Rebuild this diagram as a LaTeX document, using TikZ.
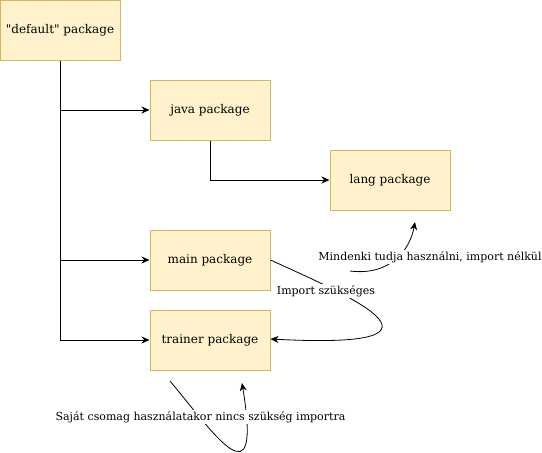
\documentclass[tikz,border=0pt]{standalone}
\usepackage{fontspec}
\setmainfont{DejaVu Serif}[Ligatures=TeXOff]
\usetikzlibrary{arrows.meta}
\definecolor{boxfill}{HTML}{FFF2CC}
\definecolor{boxdraw}{HTML}{D6B656}
\tikzset{
  pkg/.style={draw=boxdraw, fill=boxfill, line width=1pt, minimum width=120pt, minimum height=60pt, inner sep=0pt, font=\fontsize{12}{14}\selectfont},
  conn/.style={draw=black, line width=1pt, -{Stealth[length=8pt,width=7pt,inset=2.5pt]}},
  thin conn/.style={draw=black, line width=0.8pt, -{Stealth[length=8pt,width=7pt,inset=2.5pt]}},
  lbl/.style={fill=white, inner sep=1pt, font=\fontsize{11}{13}\selectfont}
}
\begin{document}
\begin{tikzpicture}[x=1pt,y=-1pt]
\useasboundingbox (0,0) rectangle (542,453);
\node[pkg] (def) at (60,30) {"default" package};
\node[pkg] (java) at (210,110) {java package};
\node[pkg] (lang) at (390,180) {lang package};
\node[pkg] (main) at (210,260) {main package};
\node[pkg] (trainer) at (210,340) {trainer package};

\draw[line width=1pt] (def.south) -- (def.south |- trainer.west);
\draw[conn] (def.south |- java.west) -- (java.west);
\draw[conn] (def.south |- main.west) -- (main.west);
\draw[conn] (def.south |- trainer.west) -- (trainer.west);
\draw[conn] (java.south) |- (lang.west);

% Mindenki
\coordinate (m0) at (350,271);
\coordinate (m1) at (415,222);
\draw[thin conn] (m0) .. controls (390,276) and (410,250) .. (m1);
\node[lbl] (mlbl) at (430,257) {Mindenki tudja használni, import nélkül};

% Import szükséges
\draw[thin conn] (main.east) .. controls (340,292) and (480,350) .. ([yshift=1pt]trainer.east);
\node[lbl] (ilbl) at (326,291) {Import szükséges};

% Saját
\coordinate (s0) at (170,381);
\coordinate (s1) at (242,383);
\draw[thin conn] (s0) .. controls (215,435) and (262,505) .. (s1);
\node[lbl] (slbl) at (200.5,417) {Saját csomag használatakor nincs szükség importra};
\end{tikzpicture}
\end{document}
